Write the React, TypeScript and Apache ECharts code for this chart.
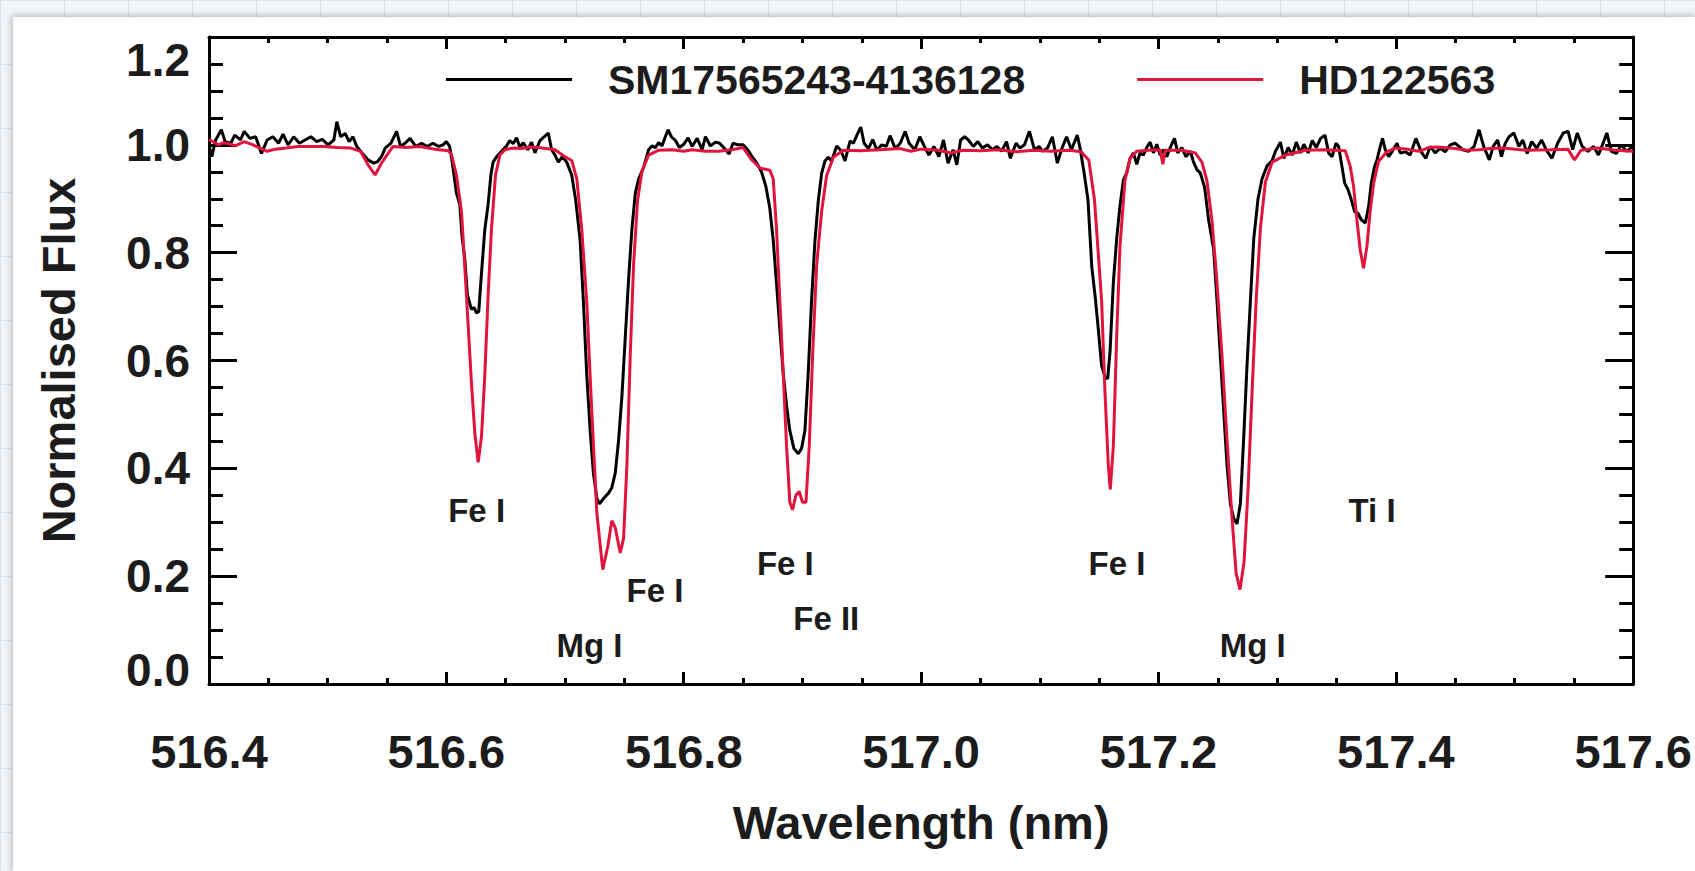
import React, { useEffect, useRef } from 'react';
import * as echarts from 'echarts';

const FONT = '"Liberation Sans", Arial, Helvetica, sans-serif';
const TEXT = '#1c1c1c';
const RED = '#e0143c';

const seriesNames = ['SM17565243-4136128', 'HD122563'];

// SM17565243-4136128 spectrum: [wavelength nm, normalised flux]
const starSpectrum: [number, number][] = [
  [516.4002, 0.997], [516.4024, 0.978], [516.4056, 1.009], [516.4104, 1.028], [516.4136, 1.006],
  [516.4184, 1.003], [516.4217, 1.018], [516.4265, 1.009], [516.4297, 1.025], [516.4345, 1.012],
  [516.4393, 1.015], [516.4442, 0.984], [516.449, 1.009], [516.4538, 1.015], [516.4586, 1.003],
  [516.4624, 1.02], [516.4666, 1.0], [516.4714, 1.015], [516.4762, 1.003], [516.481, 1.009],
  [516.4859, 1.015], [516.4907, 1.006], [516.4955, 1.01], [516.5003, 1.0], [516.5052, 1.009],
  [516.5077, 1.043], [516.5109, 1.015], [516.5148, 1.021], [516.518, 1.006], [516.5213, 1.015],
  [516.5245, 0.997], [516.5293, 0.984], [516.534, 0.972], [516.5389, 0.966], [516.5421, 0.969],
  [516.5453, 0.978], [516.5485, 0.994], [516.5533, 1.003], [516.5581, 1.025], [516.5614, 0.997],
  [516.5652, 1.003], [516.5694, 1.012], [516.5742, 0.997], [516.5791, 1.003], [516.5839, 0.997],
  [516.5887, 1.003], [516.5935, 0.997], [516.5972, 1.0], [516.6, 1.006], [516.6028, 0.997],
  [516.6056, 0.958], [516.6085, 0.91], [516.6113, 0.89], [516.6132, 0.83], [516.6155, 0.789],
  [516.6177, 0.722], [516.6211, 0.695], [516.6234, 0.698], [516.6254, 0.688], [516.6273, 0.691],
  [516.6296, 0.762], [516.6324, 0.843], [516.6352, 0.89], [516.6375, 0.944], [516.6394, 0.968],
  [516.6423, 0.978], [516.6465, 0.988], [516.6507, 0.998], [516.6535, 1.008], [516.6563, 1.002],
  [516.6592, 1.013], [516.662, 0.995], [516.6648, 1.004], [516.6685, 0.991], [516.6718, 1.005],
  [516.6746, 0.985], [516.6789, 1.008], [516.6825, 1.015], [516.6859, 1.022], [516.6887, 0.991],
  [516.6915, 0.981], [516.6944, 0.968], [516.6977, 0.978], [516.7014, 0.968], [516.7056, 0.944],
  [516.709, 0.897], [516.7127, 0.823], [516.7155, 0.708], [516.7183, 0.573], [516.7211, 0.472],
  [516.7239, 0.391], [516.7268, 0.344], [516.729, 0.334], [516.7324, 0.344], [516.7366, 0.354],
  [516.7394, 0.364], [516.7423, 0.391], [516.7451, 0.452], [516.7479, 0.533], [516.7507, 0.641],
  [516.7535, 0.749], [516.7563, 0.843], [516.7592, 0.91], [516.762, 0.937], [516.7662, 0.958],
  [516.7704, 0.991], [516.7732, 0.998], [516.7761, 0.995], [516.7789, 1.004], [516.7817, 0.998],
  [516.7845, 1.015], [516.7868, 1.028], [516.7896, 1.015], [516.793, 1.008], [516.7963, 0.995],
  [516.8, 1.001], [516.8037, 1.013], [516.807, 0.997], [516.8113, 1.012], [516.8155, 0.991],
  [516.8183, 1.015], [516.8225, 0.998], [516.8268, 1.005], [516.8303, 1.003], [516.8345, 0.993],
  [516.8382, 0.983], [516.8415, 1.003], [516.8458, 1.0], [516.85, 1.0], [516.8542, 0.99],
  [516.8579, 0.977], [516.8613, 0.967], [516.8655, 0.95], [516.8692, 0.923], [516.8725, 0.883],
  [516.8754, 0.823], [516.8782, 0.743], [516.881, 0.657], [516.8838, 0.577], [516.8866, 0.517],
  [516.8894, 0.47], [516.8928, 0.437], [516.8965, 0.427], [516.8993, 0.437], [516.9021, 0.47],
  [516.9049, 0.577], [516.9077, 0.71], [516.9106, 0.823], [516.9134, 0.897], [516.9162, 0.947],
  [516.919, 0.97], [516.9218, 0.977], [516.9246, 0.97], [516.9289, 0.998], [516.9323, 0.99],
  [516.9359, 0.97], [516.9401, 1.007], [516.943, 1.003], [516.9463, 1.02], [516.9492, 1.033],
  [516.952, 1.003], [516.9556, 0.993], [516.9593, 1.01], [516.9627, 0.99], [516.9669, 1.0],
  [516.9706, 0.997], [516.9739, 1.017], [516.9782, 0.993], [516.9824, 1.003], [516.9866, 1.025],
  [516.9899, 1.003], [516.9947, 0.991], [516.9989, 1.015], [517.0028, 0.997], [517.0066, 0.981],
  [517.0108, 0.997], [517.015, 0.978], [517.0189, 1.009], [517.0227, 0.966], [517.0269, 0.991],
  [517.0301, 0.963], [517.0333, 1.009], [517.0366, 1.015], [517.0398, 1.009], [517.044, 0.997],
  [517.0478, 1.006], [517.0517, 0.994], [517.0559, 1.0], [517.0601, 0.991], [517.0639, 0.997],
  [517.0678, 0.988], [517.072, 1.006], [517.0752, 0.975], [517.08, 1.003], [517.0833, 0.994],
  [517.0871, 1.0], [517.0913, 1.025], [517.0955, 0.991], [517.0994, 0.997], [517.1026, 0.988],
  [517.1065, 0.994], [517.1106, 1.015], [517.1148, 0.966], [517.1187, 0.994], [517.1226, 1.015],
  [517.1267, 0.991], [517.1316, 1.018], [517.1342, 0.991], [517.1374, 0.947], [517.1406, 0.898],
  [517.1438, 0.774], [517.147, 0.712], [517.1493, 0.658], [517.1521, 0.59], [517.1549, 0.57],
  [517.1572, 0.566], [517.1592, 0.617], [517.162, 0.745], [517.1648, 0.826], [517.1676, 0.887],
  [517.1704, 0.934], [517.1732, 0.948], [517.1761, 0.975], [517.1789, 0.985], [517.1817, 0.964],
  [517.1845, 0.985], [517.1873, 0.981], [517.1901, 0.995], [517.193, 1.005], [517.1958, 0.985],
  [517.1986, 1.001], [517.2014, 0.981], [517.2042, 0.991], [517.207, 0.978], [517.2099, 0.995],
  [517.2135, 1.012], [517.2163, 0.985], [517.2197, 0.995], [517.2231, 0.978], [517.2268, 0.988],
  [517.2296, 0.968], [517.2324, 0.954], [517.2352, 0.948], [517.2389, 0.921], [517.2423, 0.86],
  [517.2465, 0.806], [517.2493, 0.712], [517.2521, 0.61], [517.2549, 0.509], [517.2577, 0.408],
  [517.2606, 0.334], [517.2634, 0.307], [517.2662, 0.297], [517.269, 0.334], [517.2718, 0.455],
  [517.2746, 0.59], [517.2775, 0.712], [517.2803, 0.826], [517.2839, 0.9], [517.2873, 0.937],
  [517.2915, 0.961], [517.2958, 0.971], [517.2986, 0.988], [517.3028, 1.005], [517.3056, 0.975],
  [517.3093, 0.995], [517.3127, 0.981], [517.3161, 1.005], [517.3197, 0.985], [517.3225, 1.001],
  [517.3262, 0.985], [517.3296, 1.008], [517.333, 0.995], [517.3366, 1.012], [517.3403, 1.018],
  [517.3434, 0.985], [517.3462, 0.978], [517.3496, 1.003], [517.3518, 0.997], [517.3546, 0.96],
  [517.3569, 0.929], [517.3597, 0.917], [517.3625, 0.898], [517.3653, 0.876], [517.3681, 0.873],
  [517.3709, 0.861], [517.3743, 0.855], [517.3771, 0.886], [517.3793, 0.929], [517.3821, 0.96],
  [517.3841, 0.972], [517.3869, 0.997], [517.3888, 1.012], [517.3911, 0.991], [517.3939, 0.978],
  [517.3967, 0.987], [517.401, 1.003], [517.4037, 0.985], [517.4079, 0.987], [517.4121, 0.981],
  [517.4169, 1.012], [517.4214, 0.987], [517.4253, 0.975], [517.429, 0.997], [517.4332, 0.985],
  [517.4374, 0.994], [517.4416, 0.987], [517.4458, 1.0], [517.45, 1.003], [517.4564, 0.991],
  [517.4612, 0.988], [517.466, 0.997], [517.4701, 1.028], [517.474, 0.997], [517.4788, 0.972],
  [517.482, 0.997], [517.4858, 1.009], [517.489, 0.978], [517.4922, 1.003], [517.4954, 1.015],
  [517.4995, 1.022], [517.5037, 0.997], [517.5069, 1.009], [517.5107, 0.984], [517.5145, 1.006],
  [517.5187, 0.994], [517.5228, 1.009], [517.5267, 0.991], [517.5315, 0.975], [517.5363, 1.003],
  [517.5411, 1.022], [517.5452, 1.025], [517.549, 0.991], [517.5529, 1.022], [517.557, 0.997],
  [517.5618, 0.988], [517.5666, 0.997], [517.5707, 0.981], [517.5746, 1.003], [517.5778, 1.022],
  [517.5816, 0.988], [517.5858, 0.984], [517.5899, 1.0], [517.5944, 0.988], [517.5995, 0.997],
];

// HD122563 spectrum: [wavelength nm, normalised flux]
const refSpectrum: [number, number][] = [
  [516.4, 1.01], [516.408, 1.0], [516.412, 1.004], [516.4168, 1.002], [516.422, 0.998],
  [516.4297, 1.006], [516.437, 1.0], [516.449, 0.988], [516.456, 0.992], [516.465, 0.994],
  [516.475, 0.997], [516.4971, 0.997], [516.508, 0.995], [516.5196, 0.994], [516.5277, 0.988],
  [516.534, 0.963], [516.5399, 0.944], [516.5453, 0.966], [516.555, 0.997], [516.566, 0.995],
  [516.5774, 0.997], [516.59, 0.992], [516.6015, 0.989], [516.6042, 0.983], [516.6085, 0.944],
  [516.6127, 0.877], [516.6155, 0.776], [516.6183, 0.668], [516.6211, 0.56], [516.624, 0.465],
  [516.6268, 0.411], [516.6296, 0.459], [516.6324, 0.573], [516.6352, 0.722], [516.638, 0.843],
  [516.6414, 0.944], [516.6451, 0.981], [516.6493, 0.991], [516.656, 0.994], [516.6634, 0.993],
  [516.67, 0.996], [516.6775, 0.995], [516.6915, 0.991], [516.7, 0.978], [516.7056, 0.971],
  [516.7099, 0.937], [516.7141, 0.843], [516.7183, 0.708], [516.7225, 0.506], [516.7268, 0.317],
  [516.7318, 0.212], [516.7361, 0.256], [516.7394, 0.303], [516.7423, 0.29], [516.7465, 0.243],
  [516.7493, 0.27], [516.7521, 0.405], [516.7549, 0.607], [516.7577, 0.776], [516.7611, 0.897],
  [516.7648, 0.951], [516.7704, 0.981], [516.7789, 0.99], [516.7901, 0.991], [516.8, 0.988],
  [516.807, 0.991], [516.8183, 0.988], [516.8296, 0.988], [516.8405, 0.991], [516.85, 0.995],
  [516.857, 0.973], [516.8641, 0.957], [516.8725, 0.953], [516.8754, 0.937], [516.8782, 0.843],
  [516.881, 0.71], [516.8838, 0.577], [516.8866, 0.443], [516.8894, 0.337], [516.8917, 0.323],
  [516.8945, 0.35], [516.8973, 0.357], [516.9001, 0.337], [516.903, 0.337], [516.9058, 0.443],
  [516.9086, 0.61], [516.912, 0.777], [516.9162, 0.877], [516.9204, 0.943], [516.9261, 0.977],
  [516.9345, 0.99], [516.9486, 0.989], [516.9655, 0.991], [516.9824, 0.993], [516.9915, 0.988],
  [517.0, 0.992], [517.015, 0.99], [517.025, 0.985], [517.035, 0.99], [517.05, 0.989],
  [517.065, 0.991], [517.08, 0.987], [517.095, 0.99], [517.11, 0.988], [517.125, 0.99],
  [517.1348, 0.987], [517.1413, 0.972], [517.1461, 0.898], [517.1521, 0.711], [517.1549, 0.543],
  [517.1577, 0.408], [517.1594, 0.361], [517.162, 0.442], [517.1648, 0.644], [517.1676, 0.813],
  [517.1718, 0.934], [517.1761, 0.975], [517.1817, 0.988], [517.1915, 0.99], [517.2014, 0.991],
  [517.2037, 0.964], [517.2056, 0.99], [517.2197, 0.99], [517.231, 0.985], [517.2366, 0.968],
  [517.2408, 0.934], [517.2451, 0.86], [517.2493, 0.745], [517.2535, 0.61], [517.2577, 0.455],
  [517.262, 0.307], [517.2654, 0.206], [517.2687, 0.175], [517.2721, 0.226], [517.2755, 0.361],
  [517.2789, 0.543], [517.2823, 0.711], [517.2859, 0.846], [517.2901, 0.931], [517.2958, 0.968],
  [517.307, 0.981], [517.3239, 0.99], [517.3408, 0.991], [517.3574, 0.989], [517.3616, 0.96],
  [517.3644, 0.923], [517.3672, 0.861], [517.37, 0.805], [517.3728, 0.771], [517.3756, 0.811],
  [517.3785, 0.879], [517.3813, 0.929], [517.3854, 0.969], [517.3924, 0.987], [517.3995, 0.994],
  [517.41, 0.992], [517.4135, 0.99], [517.42, 0.988], [517.4275, 0.995], [517.435, 0.996],
  [517.45, 0.993], [517.46, 0.99], [517.47, 0.991], [517.48, 0.993], [517.49, 0.994],
  [517.51, 0.99], [517.53, 0.991], [517.545, 0.992], [517.5506, 0.972], [517.556, 0.99],
  [517.57, 0.994], [517.585, 0.99], [517.6, 0.988],
];

// Line identifications
const lineLabels = ['Fe I', 'Mg I', 'Fe I', 'Fe I', 'Fe II', 'Fe I', 'Mg I', 'Ti I'];
const lineLabelWave = [516.6255, 516.7206, 516.7757, 516.8856, 516.9201, 517.165, 517.2794, 517.38];
const lineLabelFlux = [0.321, 0.0705, 0.1725, 0.2226, 0.1215, 0.2226, 0.0714, 0.3219];

const X_MIN = 516.4;
const X_MAX = 517.6;
const X_STEP = 0.2;
const Y_MIN = 0;
const Y_MAX = 1.2;
const Y_STEP = 0.2;

export default function App() {
  const ref = useRef<HTMLDivElement>(null);

  useEffect(() => {
    if (!ref.current) return;
    const chart = echarts.init(ref.current, undefined, { renderer: 'svg' });

    const axisLine = { show: true, onZero: false, lineStyle: { color: '#000', width: 3 } };
    const xCommon = {
      type: 'value',
      min: X_MIN,
      max: X_MAX,
      interval: X_STEP,
      axisLine,
      axisTick: { show: true, inside: true, length: 12, lineStyle: { color: '#000', width: 3 } },
      minorTick: { show: true, splitNumber: 4, length: 6, lineStyle: { color: '#000', width: 3 } },
      splitLine: { show: false },
      minorSplitLine: { show: false },
    };
    const yCommon = {
      type: 'value',
      min: Y_MIN,
      max: Y_MAX,
      interval: Y_STEP,
      axisLine,
      axisTick: { show: true, inside: true, length: 28, lineStyle: { color: '#000', width: 3 } },
      minorTick: { show: true, splitNumber: 4, length: 14, lineStyle: { color: '#000', width: 3 } },
      splitLine: { show: false },
      minorSplitLine: { show: false },
    };
    const labelText = { fontFamily: FONT, fontWeight: 'bold', color: TEXT };

    chart.setOption({
      animation: false,
      backgroundColor: '#ffffff',
      grid: { left: 196, right: 60, top: 20, bottom: 187, containLabel: false },
      legend: {
        data: seriesNames,
        icon: 'rect',
        left: 428,
        top: 37,
        itemWidth: 126,
        itemHeight: 3,
        itemGap: 112,
        selectedMode: false,
        textStyle: { ...labelText, fontSize: 41, padding: [0, 0, 0, 31] },
      },
      xAxis: [
        {
          ...xCommon,
          position: 'bottom',
          axisLabel: {
            show: true,
            margin: 44,
            fontSize: 47,
            ...labelText,
            formatter: (v: number) => v.toFixed(1),
          },
          name: 'Wavelength (nm)',
          nameLocation: 'middle',
          nameGap: 115,
          nameTextStyle: { ...labelText, fontSize: 47 },
        },
        { ...xCommon, position: 'top', axisLabel: { show: false } },
      ],
      yAxis: [
        {
          ...yCommon,
          position: 'left',
          axisLabel: {
            show: true,
            margin: 19,
            fontSize: 46,
            ...labelText,
            formatter: (v: number) => {
              const s = v.toFixed(1);
              if (v > Y_MAX - 1e-6) return '{t|' + s + '}';
              if (v < Y_MIN + 1e-6) return '{b|' + s + '}';
              return s;
            },
            rich: {
              t: { ...labelText, fontSize: 46, padding: [46, 0, 0, 0] },
              b: { ...labelText, fontSize: 46, padding: [0, 0, 28, 0] },
            },
          },
          name: 'Normalised Flux',
          nameLocation: 'middle',
          nameGap: 127,
          nameTextStyle: { ...labelText, fontSize: 47 },
        },
        { ...yCommon, position: 'right', axisLabel: { show: false } },
      ],
      series: [
        {
          name: seriesNames[0],
          type: 'line',
          data: starSpectrum,
          xAxisIndex: 0,
          yAxisIndex: 0,
          symbol: 'none',
          showSymbol: false,
          color: '#000000',
          lineStyle: { color: '#000000', width: 3 },
          z: 3,
        },
        {
          name: seriesNames[1],
          type: 'line',
          data: refSpectrum,
          xAxisIndex: 0,
          yAxisIndex: 0,
          symbol: 'none',
          showSymbol: false,
          color: RED,
          lineStyle: { color: RED, width: 3 },
          z: 4,
        },
        {
          name: 'lines',
          type: 'scatter',
          xAxisIndex: 0,
          yAxisIndex: 0,
          data: lineLabels.map((n, i) => [lineLabelWave[i], lineLabelFlux[i], n]),
          symbolSize: 0,
          itemStyle: { color: TEXT, opacity: 1 },
          silent: true,
          z: 5,
          label: {
            show: true,
            position: 'inside',
            formatter: (p: any) => p.value[2],
            fontSize: 33,
            ...labelText,
          },
        },
      ],
    });

    return () => chart.dispose();
  }, []);

  return (
    <div
      style={{
        position: 'fixed',
        left: 0,
        top: 0,
        width: 1695,
        height: 871,
        overflow: 'hidden',
        backgroundColor: '#f2f5f8',
        backgroundImage:
          'linear-gradient(#dbe4ec 1px, transparent 1px), linear-gradient(90deg, #dbe4ec 1px, transparent 1px)',
        backgroundSize: '64px 64px',
      }}
    >
      <div
        ref={ref}
        style={{
          position: 'absolute',
          left: 13,
          top: 17,
          width: 1682,
          height: 854,
          background: '#fff',
          boxShadow: '0 0 7px 1px rgba(0,0,0,0.28)',
        }}
      />
    </div>
  );
}
